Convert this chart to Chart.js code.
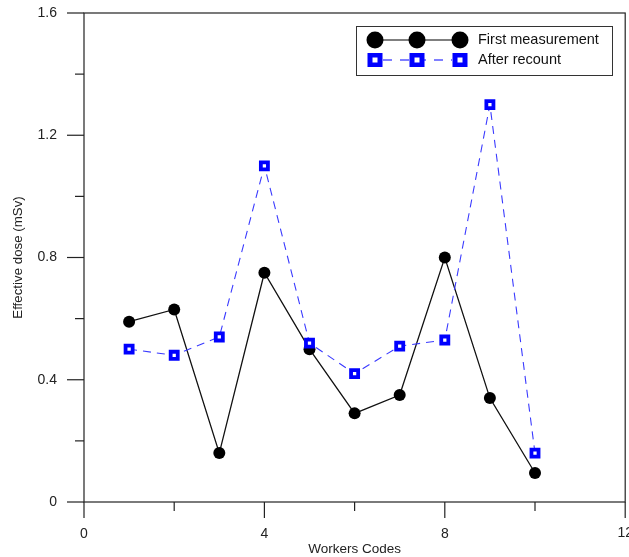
<!DOCTYPE html>
<html>
<head>
<meta charset="utf-8">
<script src="https://cdn.jsdelivr.net/npm/chart.js@4"></script>
<style>
html,body{margin:0;padding:0;background:#fff;overflow:hidden;}
#wrap{width:629px;height:557px;overflow:hidden;position:relative;}
#c{display:block;}
</style>
</head>
<body>
<div id="wrap"><canvas id="c" width="634" height="557"></canvas></div>
<script>
const workers = [1, 2, 3, 4, 5, 6, 7, 8, 9, 10];
const firstMeasurement = [0.59, 0.63, 0.16, 0.75, 0.50, 0.29, 0.35, 0.80, 0.34, 0.095];
const afterRecount = [0.50, 0.48, 0.54, 1.10, 0.52, 0.42, 0.51, 0.53, 1.30, 0.16];
const xTickLabels = [0, 4, 8, 12];
const yTickLabels = [0, 0.4, 0.8, 1.2, 1.6];
const seriesNames = ['First measurement', 'After recount'];

const FONT = 'Arial, "Liberation Sans", sans-serif';
const X_MAX = xTickLabels[xTickLabels.length - 1];

const framePlugin = {
  id: 'frame',
  afterDraw(chart) {
    const {ctx, chartArea: a, scales: {x, y}} = chart;
    ctx.save();
    ctx.strokeStyle = '#222';
    ctx.lineWidth = 1.2;
    ctx.strokeRect(a.left, a.top, a.right - a.left, a.bottom - a.top);
    // x ticks
    for (let v = 0; v <= X_MAX; v += 2) {
      const px = x.getPixelForValue(v);
      const major = xTickLabels.includes(v);
      ctx.beginPath();
      ctx.moveTo(px, a.bottom);
      ctx.lineTo(px, a.bottom + (major ? 16 : 9));
      ctx.stroke();
    }
    // last x tick label (clipped by the page edge, as in the original)
    ctx.fillStyle = '#222';
    ctx.font = '14px ' + FONT;
    ctx.textAlign = 'center';
    ctx.textBaseline = 'top';
    ctx.fillText(String(X_MAX), x.getPixelForValue(X_MAX), a.bottom + 24);
    // y ticks
    for (let i = 0; i <= 8; i++) {
      const v = i * 0.2;
      const py = y.getPixelForValue(v);
      ctx.beginPath();
      ctx.moveTo(a.left, py);
      ctx.lineTo(a.left - (i % 2 === 0 ? 17 : 9), py);
      ctx.stroke();
    }
    // legend
    const lx = 356, ly = 26, lw = 256, lh = 49;
    ctx.fillStyle = '#fff';
    ctx.fillRect(lx, ly, lw, lh);
    ctx.strokeStyle = '#333';
    ctx.lineWidth = 1;
    ctx.strokeRect(lx + 0.5, ly + 0.5, lw, lh);
    const mx = [375, 417, 460];
    // row 1
    const r1 = 40;
    ctx.strokeStyle = '#000';
    ctx.lineWidth = 1.2;
    ctx.beginPath(); ctx.moveTo(mx[0], r1); ctx.lineTo(mx[2], r1); ctx.stroke();
    ctx.fillStyle = '#000';
    mx.forEach(m => { ctx.beginPath(); ctx.arc(m, r1, 8.5, 0, Math.PI * 2); ctx.fill(); });
    // row 2
    const r2 = 60;
    ctx.strokeStyle = '#0000ff';
    ctx.lineWidth = 1.2;
    ctx.setLineDash([9, 8]);
    ctx.beginPath(); ctx.moveTo(mx[0] + 8, r2); ctx.lineTo(mx[2] - 8, r2); ctx.stroke();
    ctx.setLineDash([]);
    mx.forEach(m => {
      ctx.fillStyle = '#0000ff';
      ctx.fillRect(m - 7.5, r2 - 7, 15, 14);
      ctx.fillStyle = '#fff';
      ctx.fillRect(m - 2.5, r2 - 2.5, 5, 5);
    });
    ctx.fillStyle = '#111';
    ctx.font = '14.5px ' + FONT;
    ctx.textBaseline = 'middle';
    ctx.textAlign = 'left';
    ctx.fillText(seriesNames[0], 478, r1);
    ctx.fillText(seriesNames[1], 478, r2);
    ctx.restore();
  }
};

new Chart(document.getElementById('c'), {
  type: 'line',
  data: {
    datasets: [
      {
        label: seriesNames[1],
        data: workers.map((w, i) => ({x: w, y: afterRecount[i]})),
        borderColor: '#3a3aff',
        borderWidth: 1.1,
        borderDash: [8, 6],
        pointStyle: 'rect',
        pointRadius: 5,
        pointBorderWidth: 3.8,
        pointBorderColor: '#0000ff',
        pointBackgroundColor: '#fff',
        tension: 0,
        order: 0
      },
      {
        label: seriesNames[0],
        data: workers.map((w, i) => ({x: w, y: firstMeasurement[i]})),
        borderColor: '#111',
        borderWidth: 1.3,
        pointStyle: 'circle',
        pointRadius: 6,
        pointBorderWidth: 0,
        pointBackgroundColor: '#000',
        tension: 0,
        order: 1
      }
    ]
  },
  options: {
    responsive: false,
    animation: false,
    layout: {padding: {top: 13, right: 4, left: 0, bottom: 0}},
    plugins: {legend: {display: false}, tooltip: {enabled: false}},
    scales: {
      x: {
        type: 'linear',
        min: 0, max: X_MAX,
        afterFit(s) { s.height = 55; s.paddingLeft = 0; s.paddingRight = 0; },
        ticks: {
          stepSize: 2,
          autoSkip: false,
          maxRotation: 0,
          padding: 24,
          color: '#222',
          font: {family: FONT, size: 14},
          callback: v => (xTickLabels.includes(v) && v !== X_MAX ? String(v) : '')
        },
        grid: {display: true, drawOnChartArea: false, drawTicks: false},
        border: {display: false},
        title: {
          display: true,
          text: 'Workers Codes',
          color: '#222',
          font: {family: FONT, size: 13.5},
          padding: {top: 0, bottom: 0}
        }
      },
      y: {
        type: 'linear',
        min: 0, max: 1.6,
        afterFit(s) { s.width = 84; s.paddingTop = 0; s.paddingBottom = 0; },
        ticks: {
          stepSize: 0.2,
          autoSkip: false,
          padding: 27,
          color: '#222',
          font: {family: FONT, size: 14},
          callback: v => {
            const r = Math.round(v * 10) / 10;
            return yTickLabels.some(t => Math.abs(t - r) < 1e-9) ? String(r) : '';
          }
        },
        grid: {display: true, drawOnChartArea: false, drawTicks: false},
        border: {display: false},
        title: {
          display: true,
          text: 'Effective dose (mSv)',
          color: '#222',
          font: {family: FONT, size: 13.3},
          padding: {top: 10, bottom: 0}
        }
      }
    }
  },
  plugins: [framePlugin]
});
</script>
</body>
</html>
